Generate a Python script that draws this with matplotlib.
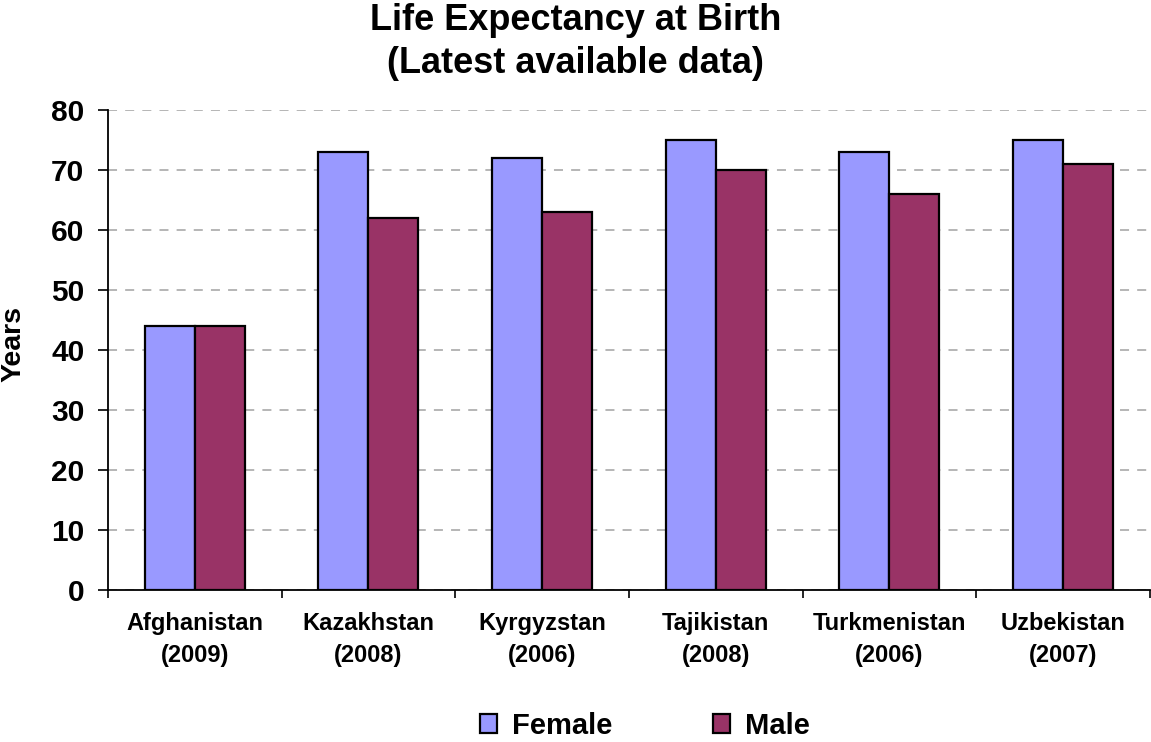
import numpy as np
import matplotlib
matplotlib.use('Agg')
import matplotlib.pyplot as plt
from matplotlib.ticker import FixedLocator, NullFormatter

# life expectancy by country, latest year with data
countries = ['Afghanistan\n(2009)', 'Kazakhstan\n(2008)', 'Kyrgyzstan\n(2006)',
             'Tajikistan\n(2008)', 'Turkmenistan\n(2006)', 'Uzbekistan\n(2007)']
female = [44, 73, 72, 75, 73, 75]
male = [44, 62, 63, 70, 66, 71]
y_ticks = [0, 10, 20, 30, 40, 50, 60, 70, 80]

plt.rcParams['font.family'] = ['Liberation Sans', 'DejaVu Sans']
plt.rcParams['font.weight'] = 'bold'

fig = plt.figure(figsize=(11.51, 7.42), dpi=100)
ax = fig.add_axes([0.0938, 0.2049, 0.9053, 0.6469])

x = np.arange(len(countries))
w = 0.288
ax.bar(x - w / 2, female, w, color='#9999FF', edgecolor='black', linewidth=1.6,
       label='Female', zorder=3)
ax.bar(x + w / 2, male, w, color='#993366', edgecolor='black', linewidth=1.6,
       label='Male', zorder=3)

ax.set_xlim(-0.5, len(countries) - 0.5)
ax.set_ylim(0, 80)
ax.set_yticks(y_ticks)
ax.set_yticklabels([str(v) for v in y_ticks], fontsize=21.5, fontweight='bold')
ax.tick_params(axis='y', length=7, width=1.2, pad=10, direction='out')

# category labels at centres, tick marks at the boundaries
ax.set_xticks(x)
ax.set_xticklabels(countries, fontsize=17, fontweight='bold', linespacing=1.5)
ax.tick_params(axis='x', which='major', length=0, pad=16)
ax.xaxis.set_minor_locator(FixedLocator(np.arange(-0.5, len(countries), 1.0)))
ax.xaxis.set_minor_formatter(NullFormatter())
ax.tick_params(axis='x', which='minor', length=6, width=1.2, direction='out')

ax.yaxis.grid(True, linestyle=(0, (5, 4.5)), color='#b0b0b0', linewidth=1.3, zorder=0)
ax.set_axisbelow(True)
for s in ['top', 'right']:
    ax.spines[s].set_visible(False)
for s in ['left', 'bottom']:
    ax.spines[s].set_linewidth(1.3)

fig.text(0.5, 1 - 42 / 742, 'Life Expectancy at Birth\n(Latest available data)',
         ha='center', va='center', fontsize=26, fontweight='bold', linespacing=1.28)
fig.text(13 / 1151, 1 - 344 / 742, 'Years', rotation=90, ha='center', va='center',
         fontsize=20.5, fontweight='bold')

leg = fig.legend(loc='center', bbox_to_anchor=(0.56, 1 - 726 / 742), ncol=2,
                 frameon=False, prop={'size': 21, 'weight': 'bold'},
                 handlelength=0.6, handleheight=0.6, handletextpad=0.5,
                 columnspacing=3.45)

fig.savefig('out.png', dpi=100)
